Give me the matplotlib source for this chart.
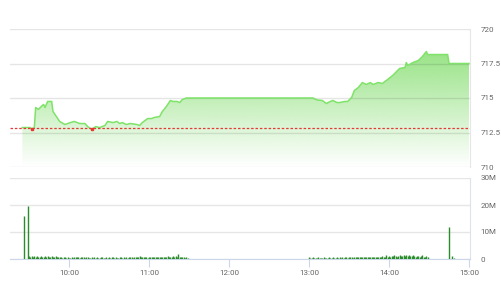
import matplotlib.pyplot as plt
import numpy as np
from matplotlib.patches import Polygon

plt.rcParams["font.family"] = ["Roboto", "DejaVu Sans"]

# intraday price points (time, index level)
price_times = ["09:25", "09:31", "09:32", "09:34", "09:35", "09:37", "09:40", "09:41",
               "09:42", "09:44", "09:47", "09:48", "09:51", "09:53", "09:57", "10:01",
               "10:04", "10:08", "10:12", "10:14", "10:17", "10:20", "10:23", "10:27",
               "10:29", "10:33", "10:36", "10:38", "10:40", "10:43", "10:46", "10:51",
               "10:53", "10:55", "10:59", "11:02", "11:04", "11:08", "11:10", "11:13",
               "11:16", "11:18", "11:21", "11:23", "11:25", "11:28", "13:02", "13:03",
               "13:06", "13:10", "13:13", "13:16", "13:18", "13:21", "13:23", "13:27",
               "13:29", "13:32", "13:34", "13:37", "13:40", "13:43", "13:46", "13:48",
               "13:52", "13:55", "13:57", "13:59", "14:01", "14:03", "14:06", "14:08",
               "14:12", "14:13", "14:14", "14:18", "14:22", "14:25", "14:28", "14:29",
               "14:44", "14:45", "15:00"]
prices = [712.86, 712.86, 712.72, 712.85, 714.31, 714.17, 714.46, 714.53,
          714.31, 714.75, 714.75, 714.02, 713.59, 713.30, 713.08, 713.22,
          713.30, 713.15, 713.15, 712.93, 712.72, 712.93, 712.86, 713.01,
          713.30, 713.22, 713.30, 713.15, 713.22, 713.08, 713.15, 713.08,
          713.01, 713.22, 713.51, 713.51, 713.59, 713.66, 714.02, 714.38,
          714.82, 714.75, 714.75, 714.67, 714.89, 715.00, 715.00, 715.00,
          714.86, 714.82, 714.60, 714.75, 714.82, 714.67, 714.67, 714.75,
          714.75, 715.04, 715.54, 715.76, 716.12, 715.98, 716.12, 715.98,
          716.12, 716.05, 716.20, 716.34, 716.50, 716.65, 716.95, 717.14,
          717.21, 717.57, 717.36, 717.57, 717.72, 718.00, 718.37, 718.15,
          718.15, 717.50, 717.50]
ref_price = 712.8

# volume in millions
spike_times = ["09:26", "09:29", "14:45", "14:47", "14:49"]
spike_vols = [16.0, 19.5, 11.7, 1.0, 0.5]

morning_start = "09:30"
morning_vols = [1.1, 0.9, 1.2, 0.8, 1.0, 0.7, 1.1, 0.9, 0.8, 1.0,
                0.7, 0.9, 1.0, 0.8, 1.1, 0.9, 0.7, 1.0, 0.8, 0.9,
                1.0, 0.8, 0.9, 0.6, 0.7, 0.5, 0.6, 0.7, 0.5, 0.6,
                0.5, 0.4, 0.6, 0.5, 0.7, 0.6, 0.8, 0.6, 0.5, 0.7,
                0.6, 0.7, 0.5, 0.8, 0.6, 0.5, 0.4, 0.6, 0.5, 0.7,
                0.5, 0.6, 0.4, 0.5, 0.6, 0.7, 0.5, 0.4, 0.6, 0.5,
                0.7, 0.5, 0.6, 0.8, 0.5, 0.6, 0.4, 0.5, 0.7, 0.6,
                0.5, 0.6, 0.4, 0.7, 0.5, 0.6, 0.8, 0.6, 0.5, 0.7,
                0.6, 0.9, 0.7, 1.0, 0.6, 0.8, 0.7, 0.9, 0.6, 0.5,
                0.7, 0.8, 0.6, 0.9, 0.7, 0.8, 0.6, 0.7, 0.9, 0.6,
                0.7, 0.8, 0.6, 0.7, 1.0, 0.8, 0.9, 0.7, 1.1, 0.8,
                1.0, 0.9, 1.8, 0.7, 0.9, 0.6, 0.7, 0.5, 0.6, 0.4]
afternoon_start = "13:00"
afternoon_vols = [0.9, 0.5, 0.4, 0.6, 0.3, 0.5, 0.4, 0.6, 0.5, 0.4,
                  0.5, 0.6, 0.4, 0.5, 0.3, 0.6, 0.5, 0.4, 0.7, 0.5,
                  0.4, 0.6, 0.5, 0.7, 0.4, 0.6, 0.5, 0.8, 0.6, 0.5,
                  0.7, 0.6, 0.8, 0.5, 0.7, 0.6, 0.9, 0.7, 0.6, 0.8,
                  0.7, 0.6, 0.9, 0.7, 0.8, 0.6, 0.7, 0.9, 0.8, 0.6,
                  0.8, 0.7, 0.9, 0.6, 0.8, 1.0, 0.7, 0.9, 1.4, 0.8,
                  1.0, 0.9, 1.2, 1.0, 1.3, 1.1, 0.9, 1.2, 1.4, 1.0,
                  1.2, 1.5, 1.1, 1.3, 1.0, 1.4, 1.2, 1.1, 1.3, 1.0,
                  0.9, 1.2, 1.0, 0.8, 1.1, 1.3, 0.9, 0.7, 1.0, 0.8]

hour_ticks = ["10:00", "11:00", "12:00", "13:00", "14:00", "15:00"]
price_ticks = [710, 712.5, 715, 717.5, 720]
price_labels = ["710", "712.5", "715", "717.5", "720"]
vol_ticks = [0, 10, 20, 30]
vol_labels = ["0", "10M", "20M", "30M"]


def to_min(s):
    h, m = s.split(":")
    return (int(h) - 9) * 60 + int(m)


t = np.array([to_min(s) for s in price_times], dtype=float)
p = np.array(prices)

vol_t = [to_min(s) for s in spike_times]
vol_v = list(spike_vols)
m0 = to_min(morning_start)
vol_t += [m0 + i for i in range(len(morning_vols))]
vol_v += morning_vols
a0 = to_min(afternoon_start)
vol_t += [a0 + i for i in range(len(afternoon_vols))]
vol_v += afternoon_vols

xmin, xmax = 15.75, 360.75
text_col = "#666666"
fsize = 5.8

fig = plt.figure(figsize=(5.01, 3.0), dpi=100)
ax1 = fig.add_axes([10 / 501, 1 - 167 / 300, 460 / 501, 138 / 300])
ax2 = fig.add_axes([10 / 501, 1 - 259 / 300, 460 / 501, 81 / 300])

# price panel
ax1.set_xlim(xmin, xmax)
ax1.set_ylim(710, 720)

# gradient fill under the line
top = p.max()
grad = np.zeros((256, 1, 4))
levels = np.linspace(710, top, 256)
grad[:, 0, 0] = 125 / 255
grad[:, 0, 1] = 220 / 255
grad[:, 0, 2] = 102 / 255
grad[:, 0, 3] = np.clip(0.095 * (levels - 710), 0, 1)
im = ax1.imshow(grad, extent=[t[0], t[-1], 710, top], origin="lower",
                aspect="auto", zorder=1, interpolation="bilinear")
verts = np.column_stack([np.r_[t[0], t, t[-1]], np.r_[710, p, 710]])
poly = Polygon(verts, closed=True, facecolor="none", edgecolor="none")
ax1.add_patch(poly)
im.set_clip_path(poly)

ax1.plot(t, p, color="#7fe36a", lw=1.1, zorder=3)
ax1.axhline(ref_price, color="#e53935", lw=0.9, ls=(0, (2, 1.5)), zorder=4)
below = p < ref_price
ax1.plot(t[below], p[below], "s", color="#e53935", ms=2, zorder=5)

ax1.set_yticks(price_ticks)
ax1.set_yticklabels(price_labels)
ax1.yaxis.tick_right()
ax1.tick_params(axis="y", length=0, pad=7.5, labelsize=fsize, labelcolor=text_col)
ax1.set_xticks([])
ax1.set_axisbelow(False)
ax1.grid(axis="y", color="black", alpha=0.1, lw=1)
for side in ["top", "left", "bottom"]:
    ax1.spines[side].set_visible(False)
ax1.spines["right"].set_color("#e6e6e6")

# volume panel
ax2.vlines(vol_t, 0, vol_v, color="#2b8c2b", lw=1.0, zorder=3)
ax2.set_xlim(xmin, xmax)
ax2.set_ylim(0, 30)
ax2.set_yticks(vol_ticks)
ax2.set_yticklabels(vol_labels)
ax2.yaxis.tick_right()
ax2.tick_params(axis="y", length=0, pad=7.5, labelsize=fsize, labelcolor=text_col)
ax2.set_xticks([to_min(s) for s in hour_ticks])
ax2.set_xticklabels(hour_ticks)
ax2.tick_params(axis="x", length=6, color="#ccd6eb", pad=2, labelsize=fsize,
                labelcolor=text_col)
ax2.grid(axis="y", color="#e6e6e6", lw=1)
ax2.set_axisbelow(True)
for side in ["top", "left"]:
    ax2.spines[side].set_visible(False)
ax2.spines["bottom"].set_color("#ccd6eb")
ax2.spines["right"].set_color("#dde3ec")

fig.savefig("out.png", dpi=100)
